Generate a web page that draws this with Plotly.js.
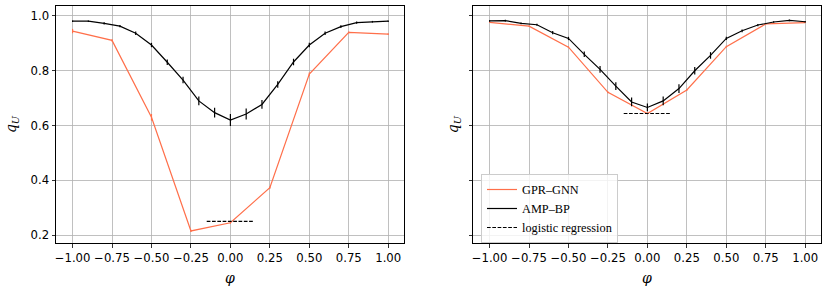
<!DOCTYPE html>
<html>
<head>
<meta charset="utf-8">
<script src="https://cdn.plot.ly/plotly-3.0.1.min.js"></script>
<style>html,body{margin:0;padding:0;background:#fff;}#chart{width:830px;height:293px;}</style>
</head>
<body>
<div id="chart"></div>
<script>
// x values
const phiAmp = [-1.0,-0.9,-0.8,-0.7,-0.6,-0.5,-0.4,-0.3,-0.2,-0.1,0.0,0.1,0.2,0.3,0.4,0.5,0.6,0.7,0.8,0.9,1.0];
const phiGnn = [-1.0,-0.75,-0.5,-0.25,0.0,0.25,0.5,0.75,1.0];
const phiLogreg = [-0.15, 0.15];

// left panel
const ampLeft = [0.981,0.981,0.973,0.963,0.937,0.894,0.831,0.766,0.690,0.647,0.620,0.642,0.677,0.750,0.832,0.894,0.937,0.961,0.976,0.979,0.981];
const ampLeftErr = [0.003,0.003,0.004,0.004,0.006,0.008,0.010,0.012,0.016,0.018,0.022,0.020,0.016,0.012,0.012,0.008,0.006,0.005,0.004,0.003,0.003];
const gnnLeft = [0.945,0.911,0.630,0.215,0.245,0.373,0.788,0.940,0.934];
const gnnLeftErr = [0.008,0.004,0.012,0.004,0.004,0.004,0.006,0.003,0.003];
const logregLeft = [0.250, 0.250];

// right panel
const ampRight = [0.982,0.983,0.973,0.968,0.939,0.918,0.860,0.805,0.744,0.686,0.666,0.690,0.735,0.800,0.856,0.918,0.946,0.967,0.978,0.984,0.979];
const ampRightErr = [0.003,0.003,0.003,0.004,0.006,0.006,0.010,0.012,0.014,0.016,0.014,0.016,0.016,0.014,0.012,0.006,0.005,0.004,0.003,0.003,0.003];
const gnnRight = [0.977,0.963,0.886,0.721,0.644,0.730,0.888,0.971,0.976];
const gnnRightErr = [0.002,0.002,0.003,0.003,0.003,0.003,0.003,0.002,0.002];
const logregRight = [0.644, 0.644];

const xTicks = [-1.0,-0.75,-0.5,-0.25,0.0,0.25,0.5,0.75,1.0];
const xTickLabels = ['\u22121.00','\u22120.75','\u22120.50','\u22120.25','0.00','0.25','0.50','0.75','1.00'];
const yTicks = [0.2,0.4,0.6,0.8,1.0];
const yTickLabels = ['0.2','0.4','0.6','0.8','1.0'];

const orange = '#ff6f4a';

function series(x, y, err, color, name, xa, ya, show) {
  return {
    x: x, y: y, type: 'scatter', mode: 'lines', name: name,
    xaxis: xa, yaxis: ya, showlegend: show,
    line: {color: color, width: 1.2},
    error_y: {type: 'data', array: err, visible: true, color: color, thickness: 1.2, width: 0}
  };
}
function dashed(x, y, xa, ya, show) {
  return {
    x: x, y: y, type: 'scatter', mode: 'lines', name: 'logistic regression',
    xaxis: xa, yaxis: ya, showlegend: show,
    line: {color: '#000', width: 1.2, dash: '3.7px,1.6px'}
  };
}

const data = [
  series(phiGnn, gnnLeft, gnnLeftErr, orange, 'GPR\u2013GNN', 'x', 'y', false),
  series(phiAmp, ampLeft, ampLeftErr, '#000', 'AMP\u2013BP', 'x', 'y', false),
  dashed(phiLogreg, logregLeft, 'x', 'y', false),
  series(phiGnn, gnnRight, gnnRightErr, orange, 'GPR\u2013GNN', 'x2', 'y2', true),
  series(phiAmp, ampRight, ampRightErr, '#000', 'AMP\u2013BP', 'x2', 'y2', true),
  dashed(phiLogreg, logregRight, 'x2', 'y2', true)
];

const tickFont = {family: 'DejaVu Sans', size: 11.7, color: '#000'};
const titleFont = {family: 'DejaVu Serif', size: 14, color: '#000'};

function xaxis(domain, anchor) {
  return {
    domain: domain, anchor: anchor, range: [-1.105, 1.1],
    tickvals: xTicks, ticktext: xTickLabels, tickfont: tickFont,
    ticks: 'outside', ticklen: 3.5, tickwidth: 0.8, tickcolor: '#000',
    showline: true, mirror: true, linecolor: '#000', linewidth: 1,
    showgrid: true, gridcolor: '#b0b0b0', gridwidth: 0.8, zeroline: false,
    title: {text: '<i>\u03c6</i>', font: titleFont, standoff: 9},
    automargin: false
  };
}
function yaxis(domain, anchor, labels) {
  return {
    domain: domain, anchor: anchor, range: [0.171, 1.0365],
    tickvals: yTicks, ticktext: yTickLabels, showticklabels: labels, tickfont: tickFont,
    ticks: 'outside', ticklen: 3.5, tickwidth: 0.8, tickcolor: '#000',
    showline: true, mirror: true, linecolor: '#000', linewidth: 1,
    showgrid: true, gridcolor: '#b0b0b0', gridwidth: 0.8, zeroline: false,
    title: {text: '<i>q</i><sub><i>U</i></sub>', font: titleFont, standoff: labels ? 10 : 6},
    automargin: false
  };
}

const yDom = [1 - 243/293, 1 - 6/293];
const layout = {
  width: 830, height: 293,
  margin: {l: 0, r: 0, t: 0, b: 0},
  paper_bgcolor: '#fff', plot_bgcolor: '#fff',
  showlegend: true,
  xaxis: xaxis([56/830, 404/830], 'y'),
  yaxis: yaxis(yDom, 'x', true),
  xaxis2: xaxis([473/830, 821/830], 'y2'),
  yaxis2: yaxis(yDom, 'x2', false),
  legend: {
    x: 481/830, y: 1 - 174/293, xanchor: 'left', yanchor: 'top',
    bgcolor: 'rgba(255,255,255,0.8)', bordercolor: '#cccccc', borderwidth: 1,
    font: {family: 'Liberation Serif', size: 12.3, color: '#000'},
    tracegroupgap: 0, itemwidth: 30
  }
};

Plotly.newPlot('chart', data, layout, {staticPlot: true, displayModeBar: false});
</script>
</body>
</html>
